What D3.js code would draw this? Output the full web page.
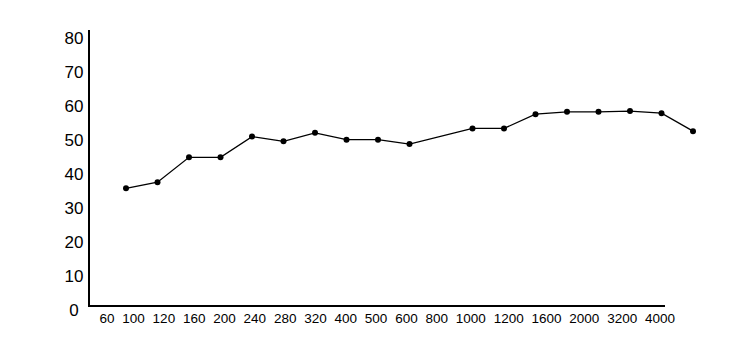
<!DOCTYPE html>
<html>
<head>
<meta charset="utf-8">
<script src="https://cdn.jsdelivr.net/npm/d3@7"></script>
<style>
  body { margin: 0; background: #fff; }
  text { font-family: "Liberation Sans", Arial, sans-serif; fill: #000; }
</style>
</head>
<body>
<div id="chart"></div>
<script>
// tick labels along the bottom
var xLabels = ["60", "100", "120", "160", "200", "240", "280", "320", "400", "500",
  "600", "800", "1000", "1200", "1600", "2000", "3200", "4000"];
var yTicks = [0, 10, 20, 30, 40, 50, 60, 70, 80];

// point slots (slot 10 has no value) and the values
var slots = [0, 1, 2, 3, 4, 5, 6, 7, 8, 9, 11, 12, 13, 14, 15, 16, 17, 18];
var values = [35.8, 37.6, 44.9, 44.9, 51.0, 49.6, 52.1, 50.1, 50.1, 48.8,
  53.4, 53.4, 57.6, 58.3, 58.3, 58.5, 57.9, 52.6];

var svgWidth = 750, svgHeight = 350;

var svg = d3.select("#chart").append("svg")
  .attr("width", svgWidth)
  .attr("height", svgHeight);

// scales
var yScale = d3.scaleLinear().domain([0, 80]).range([310, 38]);
var xSlot = d3.scaleLinear().domain([0, 18]).range([126, 693]);

// axis lines
svg.append("line")
  .attr("x1", 89).attr("x2", 89)
  .attr("y1", 30).attr("y2", 306)
  .attr("stroke", "#000").attr("stroke-width", 2);
svg.append("line")
  .attr("x1", 88).attr("x2", 665)
  .attr("y1", 306).attr("y2", 306)
  .attr("stroke", "#000").attr("stroke-width", 2);

// y labels
var yAxis = svg.append("g")
  .attr("transform", "translate(74,0)")
  .call(d3.axisLeft(yScale).tickValues(yTicks).tickSize(0).tickPadding(0));
yAxis.select(".domain").remove();
yAxis.selectAll("text")
  .attr("text-anchor", "middle")
  .attr("x", 0)
  .style("font-size", "17px")
  .style("font-family", "'Liberation Sans', Arial, sans-serif");

// x labels: packed with an even gap, first centred at 107, last at 660
var xText = svg.append("g")
  .selectAll("text")
  .data(xLabels)
  .enter()
  .append("text")
  .attr("y", 323)
  .attr("text-anchor", "start")
  .style("font-size", "13.5px")
  .text(d => d);

var widths = [];
xText.each(function() { widths.push(this.getComputedTextLength()); });
var inner = d3.sum(widths) - widths[0] / 2 - widths[widths.length - 1] / 2;
var gap = ((660 - 107) - inner) / (widths.length - 1);
var cursor = 107 - widths[0] / 2;
xText.each(function(d, i) {
  d3.select(this).attr("x", cursor);
  cursor += widths[i] + gap;
});

// line + points
var data = slots.map(function(s, i) { return { s: s, v: values[i] }; });

svg.append("path")
  .datum(data)
  .attr("fill", "none")
  .attr("stroke", "#000")
  .attr("stroke-width", 1.3)
  .attr("d", d3.line().x(d => xSlot(d.s)).y(d => yScale(d.v)));

svg.selectAll("circle.pt")
  .data(data)
  .enter()
  .append("circle")
  .attr("class", "pt")
  .attr("cx", d => xSlot(d.s))
  .attr("cy", d => yScale(d.v))
  .attr("r", 3)
  .attr("fill", "#000");
</script>
</body>
</html>
